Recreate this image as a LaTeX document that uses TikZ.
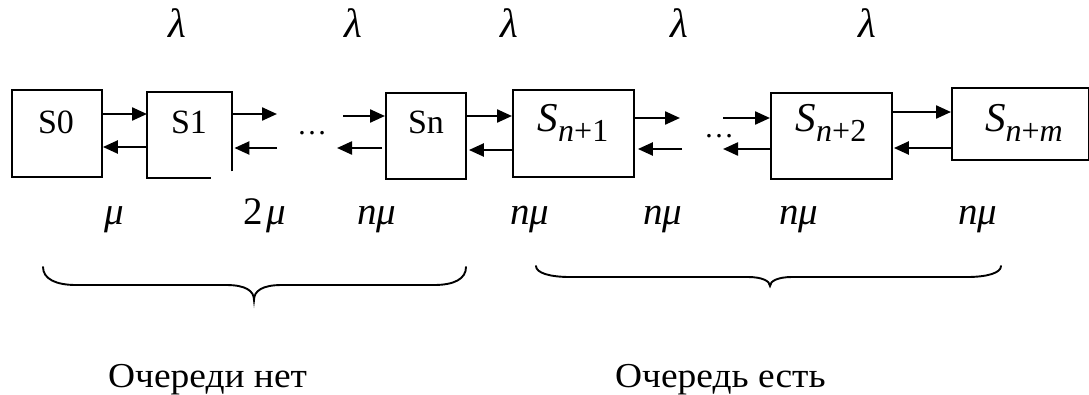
\documentclass[tikz,border=0pt]{standalone}
\usepackage{fontspec}
\setmainfont{Liberation Serif}
\usetikzlibrary{arrows.meta}
\begin{document}
\begin{tikzpicture}[x=1pt,y=-1pt,
  box/.style={draw, line width=1.9pt, inner sep=0pt, anchor=north west},
  boxline/.style={line width=1.9pt},
  arr/.style={line width=2.3pt, -{Triangle[length=15pt,width=13pt]}},
  lbl/.style={anchor=base, inner sep=0pt, font=\fontsize{34}{40}\selectfont},
  dots/.style={anchor=base, inner sep=0pt, font=\fontsize{30}{36}\selectfont},
  greek/.style={anchor=base, inner sep=0pt, font=\fontsize{39}{44}\selectfont\itshape},
  lam/.style={anchor=base, inner sep=0pt, font=\fontsize{41}{46}\selectfont\itshape},
  bigS/.style={anchor=base, inner sep=0pt, font=\fontsize{41}{44}\selectfont\itshape},
  brace/.style={line width=1.9pt, line cap=round},
  caption/.style={anchor=base west, inner sep=0pt, font=\fontsize{35}{40}\selectfont}]
\useasboundingbox (0,0) rectangle (1089,394);
\newcommand{\subx}[1]{\raisebox{-10pt}{\fontsize{32}{32}\selectfont #1}}
% boxes
\node[box, minimum width=90pt, minimum height=87pt] (s0) at (11,89) {};
\node[inner sep=0pt, anchor=north west, minimum width=85pt, minimum height=86pt] (s1) at (147,92) {};
\draw[boxline] (s1.south east) ++(0,-7) -- (s1.north east) -- (s1.north west) -- (s1.south west) -- ++(64,0);
\node[box, minimum width=80pt, minimum height=86pt] (sn) at (385,92) {};
\node[box, minimum width=121pt, minimum height=87pt] (sn1) at (512,89) {};
\node[box, minimum width=121pt, minimum height=86pt] (sn2) at (770,92) {};
\node[box, minimum width=137pt, minimum height=72pt] (snm) at (951,87) {};
% box labels
\node[lbl] (t0) at (56,133) {S0};
\node[lbl] (t1) at (189,133) {S1};
\node[lbl] (tn) at (426,133) {Sn};
\node[bigS] (tn1) at (573,131) {S\subx{n\upshape+1}};
\node[bigS] (tn2) at (831,131) {S\subx{n\upshape+2}};
\node[bigS] (tnm) at (1024,131) {S\subx{n\upshape+\itshape m}};
% dots
\node[dots] (d1) at (312,134) {…};
\node[dots] (d2) at (719,137) {…};
% y levels
\coordinate (y114) at (0,114);
\coordinate (y147) at (0,147);
\coordinate (y116) at (0,116);
\coordinate (y148) at (0,148);
\coordinate (y150) at (0,150);
\coordinate (y118) at (0,118);
\coordinate (y149) at (0,149);
\coordinate (y112) at (0,112);
% free ends
\coordinate (f1a) at (277,114);
\coordinate (f1b) at (277,148);
\coordinate (f2a) at (343,116);
\coordinate (f2b) at (382,148);
\coordinate (f2t) at (337,148);
\coordinate (f3a) at (680,118);
\coordinate (f3b) at (682,149);
\coordinate (f4a) at (723,118);
\coordinate (f4b) at (723,149);
% arrows
\draw[arr] (s0.east |- y114) -- (s1.west |- y114);
\draw[arr] (s1.west |- y147) -- (s0.east |- y147);
\draw[arr] (s1.east |- y114) -- (f1a);
\draw[arr] (f1b) -- ([xshift=2pt]s1.east |- y148);
\draw[arr] (f2a) -- (sn.west |- y116);
\draw[arr] (f2b) -- (f2t);
\draw[arr] (sn.east |- y116) -- (sn1.west |- y116);
\draw[arr] (sn1.west |- y150) -- ([xshift=2pt]sn.east |- y150);
\draw[arr] (sn1.east |- y118) -- (f3a);
\draw[arr] (f3b) -- ([xshift=3pt]sn1.east |- y149);
\draw[arr] (f4a) -- (sn2.west |- y118);
\draw[arr] (sn2.west |- y149) -- (f4b);
\draw[arr] (sn2.east |- y112) -- (snm.west |- y112);
\draw[arr] (snm.west |- y148) -- ([xshift=1pt]sn2.east |- y148);
% lambda labels
\node[lam] (l1) at (177,37) {λ};
\node[lam] (l2) at (353,37) {λ};
\node[lam] (l3) at (509,37) {λ};
\node[lam] (l4) at (679,37) {λ};
\node[lam] (l5) at (867,37) {λ};
% mu labels
\node[greek] (m1) at (114,224) {μ};
\node[greek] (m2) at (265,224) {\upshape 2\hspace{4pt}\itshape μ};
\node[greek] (m3) at (377,224) {nμ};
\node[greek] (m4) at (530,224) {nμ};
\node[greek] (m5) at (663,224) {nμ};
\node[greek] (m6) at (799,224) {nμ};
\node[greek] (m7) at (978,224) {nμ};
% braces
\draw[brace] (43,267) .. controls (43,279) and (56,285) .. (76,285) -- (226,285) .. controls (246,285) and (254,291) .. (254,300) .. controls (254,291) and (262,285) .. (282,285) -- (434,285) .. controls (454,285) and (466,279) .. (466,267);
\draw[brace] (536,266) .. controls (536,273) and (550,277) .. (570,277) -- (748,277) .. controls (762,277) and (770,281) .. (770,286) .. controls (770,281) and (778,277) .. (792,277) -- (967,277) .. controls (987,277) and (1001,273) .. (1001,266);
% captions
\node[caption] (c1) at (108,387) {\scalebox{1.07}[1]{Очереди нет}};
\node[caption] (c2) at (615,387) {\scalebox{1.07}[1]{Очередь есть}};
\end{tikzpicture}
\end{document}
